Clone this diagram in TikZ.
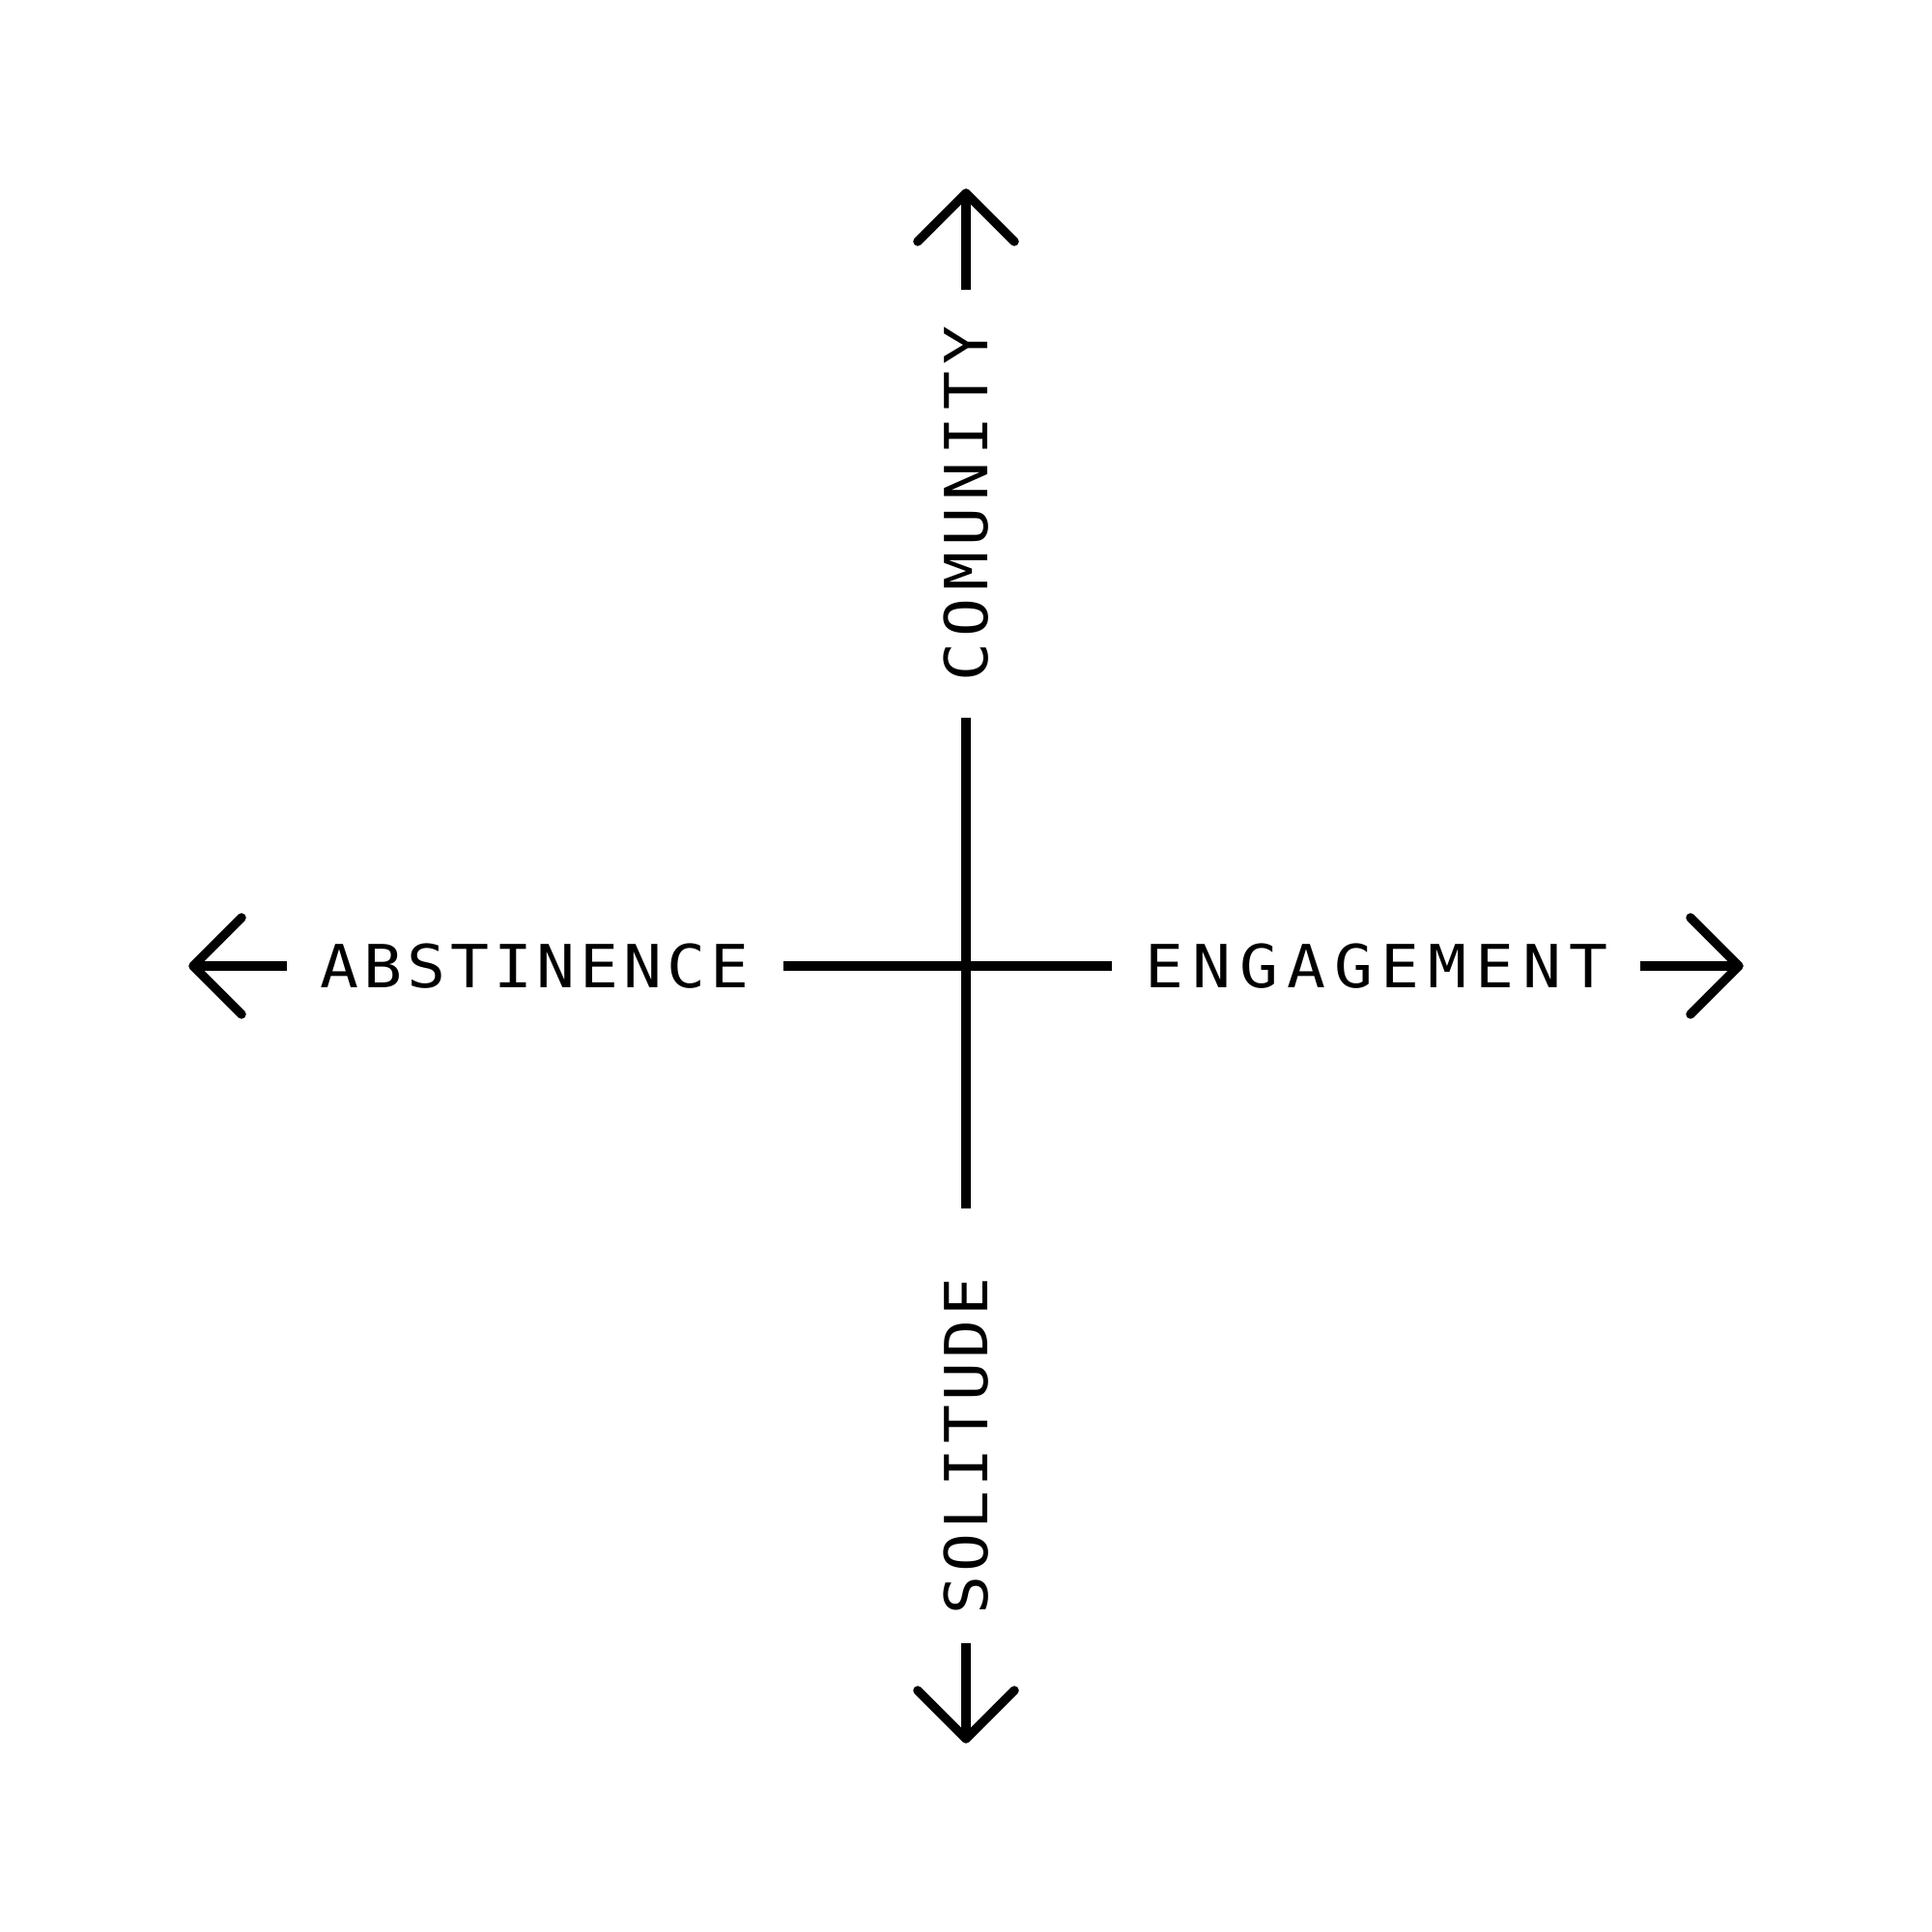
\documentclass[tikz,border=0pt]{standalone}
\usepackage{fontspec}
\newfontfamily\labfont[FakeStretch=1.08]{DejaVu Sans Mono}
\tikzset{
  axisline/.style={line width=0.095cm, line cap=butt, black},
  headline/.style={line width=0.095cm, line cap=round, line join=round, black},
  axislabel/.style={inner sep=0pt, font=\labfont\fontsize{17.5pt}{20pt}\selectfont}
}
\begin{document}
\begin{tikzpicture}
\useasboundingbox (0,0) rectangle (20,20);
\fill[white] (0,0) rectangle (20,20);
% central cross
\coordinate (vtop) at (10,12.57);
\coordinate (vbot) at (10,7.49);
\coordinate (hleft) at (8.11,10);
\coordinate (hright) at (11.51,10);
\draw[axisline] (vtop) -- (vbot);
\draw[axisline] (hleft) -- (hright);
% labels
\node[axislabel, rotate=90] (community) at (10,14.785) {\addfontfeature{LetterSpace=11.4}COMUNITY};
\node[axislabel, rotate=90] (solitude) at (10,5.03) {\addfontfeature{LetterSpace=6.7}SOLITUDE};
\node[axislabel] (abstinence) at (5.535,10) {\addfontfeature{LetterSpace=8.0}ABSTINENCE};
\node[axislabel] (engagement) at (14.255,10) {\addfontfeature{LetterSpace=14.3}ENGAGEMENT};
% top arrow
\coordinate (ttip) at (10,18);
\coordinate (tshaft) at (10,17);
\coordinate (twl) at (9.5,17.5);
\coordinate (twr) at (10.5,17.5);
\draw[axisline] (tshaft) -- (ttip);
\draw[headline] (twl) -- (ttip) -- (twr);
% bottom arrow
\coordinate (btip) at (10,2);
\coordinate (bshaft) at (10,2.99);
\coordinate (bwl) at (9.5,2.5);
\coordinate (bwr) at (10.5,2.5);
\draw[axisline] (bshaft) -- (btip);
\draw[headline] (bwl) -- (btip) -- (bwr);
% left arrow
\coordinate (ltip) at (2,10);
\coordinate (lshaft) at (2.97,10);
\coordinate (lwu) at (2.5,10.5);
\coordinate (lwd) at (2.5,9.5);
\draw[axisline] (lshaft) -- (ltip);
\draw[headline] (lwu) -- (ltip) -- (lwd);
% right arrow
\coordinate (rtip) at (18,10);
\coordinate (rshaft) at (16.98,10);
\coordinate (rwu) at (17.5,10.5);
\coordinate (rwd) at (17.5,9.5);
\draw[axisline] (rshaft) -- (rtip);
\draw[headline] (rwu) -- (rtip) -- (rwd);
\end{tikzpicture}
\end{document}
